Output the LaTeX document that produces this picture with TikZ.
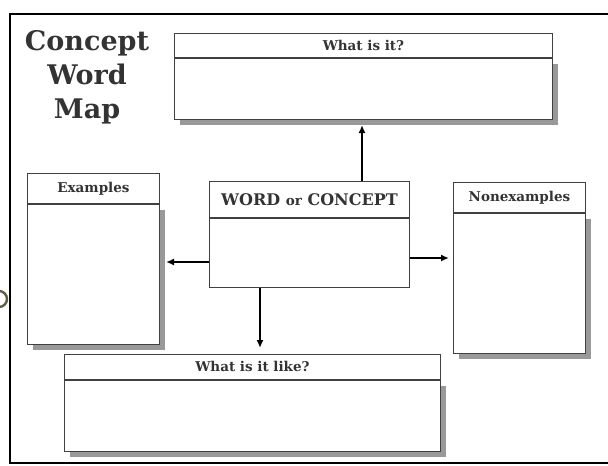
\documentclass[tikz,border=0pt]{standalone}
\usepackage{fontspec}
\setmainfont{DejaVu Serif}
\usetikzlibrary{positioning,shadows,arrows.meta}
\definecolor{ringgray}{HTML}{625D45}
\tikzset{
  headbox/.style  = {shape=rectangle, draw=black!75, line width=0.9pt,
                     fill=white, inner sep=0pt, align=center, text=black!80,
                     font=\bfseries\fontsize{13.5}{16}\selectfont},
  bodybox/.style  = {shape=rectangle, draw=black!75, line width=0.9pt,
                     fill=white, inner sep=0pt},
  shadowed/.style = {bodybox, drop shadow={shadow xshift=6pt,
                     shadow yshift=-6pt, fill=black!40, opacity=1}},
  title/.style    = {align=center, text=black!80,
                     font=\bfseries\fontsize{27}{34}\selectfont},
  link/.style     = {draw, -{Latex[length=8pt,width=7pt]}, line width=1.6pt}
}

\begin{document}
\begin{tikzpicture}
  [
    x = 1pt,
    y = -1pt
  ]
  \useasboundingbox (0,0) rectangle (608,466);
  % page frame and punched hole
  \draw [line width=1.6pt] (608,14) -- (10,14) -- (10,463) -- (608,463);
  \begin{scope}
    \clip (0,0) rectangle (608,466);
    \draw [ringgray, line width=2.4pt] (-1,299) circle (8pt);
  \end{scope}

  \node [title] (title) at (87,77) {Concept\\Word\\Map};

  % the five boxes
  \node [headbox, anchor=north west, minimum width=378pt, minimum height=24pt]
        (what) at (174,33) {What is it?};
  \node [shadowed, minimum width=378pt, minimum height=61pt, below=0pt of what]
        (whatbody) {};

  \node [headbox, anchor=north west, minimum width=132pt, minimum height=30pt]
        (ex) at (27,173) {Examples};
  \node [shadowed, minimum width=132pt, minimum height=140pt, below=0pt of ex]
        (exbody) {};

  \node [headbox, anchor=north west, minimum width=200pt, minimum height=36pt,
         font=\bfseries\fontsize{16}{18}\selectfont]
        (word) at (209,181) {WORD {\fontsize{13.5}{16}\selectfont or} CONCEPT};
  \node [bodybox, minimum width=200pt, minimum height=69pt, below=0pt of word]
        (wordbody) {};

  \node [headbox, anchor=north west, minimum width=132pt, minimum height=30pt]
        (nonex) at (453,182) {Nonexamples};
  \node [shadowed, minimum width=132pt, minimum height=140pt, below=0pt of nonex]
        (nonexbody) {};

  \node [headbox, anchor=north west, minimum width=376pt, minimum height=25pt]
        (like) at (64,354) {What is it like?};
  \node [shadowed, minimum width=376pt, minimum height=71pt, below=0pt of like]
        (likebody) {};

  % arrows out of the centre box
  \coordinate (upend)    at (362,125);
  \coordinate (leftend)  at (166,262);
  \coordinate (rightend) at (449,258);
  \coordinate (downend)  at (260,348);
  \draw [link] (word.north -| upend) -- (upend);
  \draw [link] (wordbody.west |- leftend) -- (leftend);
  \draw [link] (wordbody.east |- rightend) -- (rightend);
  \draw [link] (wordbody.south -| downend) -- (downend);
\end{tikzpicture}
\end{document}
